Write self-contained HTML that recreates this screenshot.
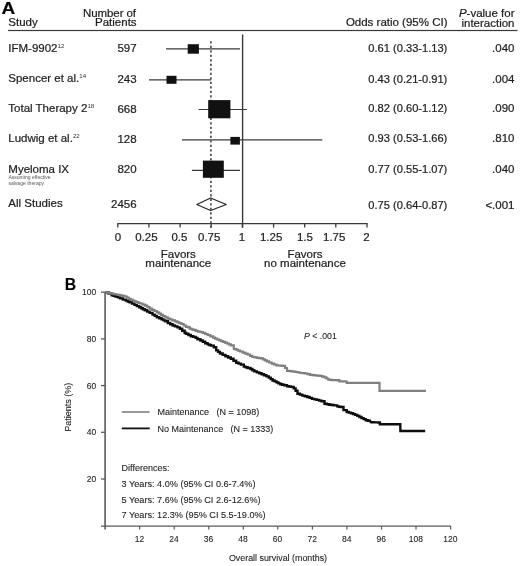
<!DOCTYPE html>
<html><head><meta charset="utf-8"><style>
html,body{margin:0;padding:0;background:#fff;width:520px;height:566px;overflow:hidden}
svg{display:block;will-change:transform}
text{font-family:"Liberation Sans",sans-serif;stroke:#1e1e1e;stroke-width:0.22px} .pb text{stroke-width:0.1px}
</style></head><body>
<svg width="520" height="566" viewBox="0 0 520 566" font-family="Liberation Sans, sans-serif">
<text transform="translate(1.6,13.6) scale(1.13,1)" font-size="16.8" font-weight="bold" fill="#000">A</text>
<text x="8.3" y="25.7" font-size="11.5" fill="#1e1e1e">Study</text>
<text x="135.9" y="16.6" font-size="11.5" fill="#1e1e1e" text-anchor="end" letter-spacing="-0.1">Number of</text>
<text x="136.6" y="25.7" font-size="11.5" fill="#1e1e1e" text-anchor="end">Patients</text>
<text x="447.5" y="25.7" font-size="11.5" fill="#1e1e1e" text-anchor="end">Odds ratio (95% CI)</text>
<text x="514.5" y="17.4" font-size="11.5" fill="#1e1e1e" text-anchor="end"><tspan font-style="italic">P</tspan>-value for</text>
<text x="514.5" y="26.8" font-size="11.5" fill="#1e1e1e" text-anchor="end">interaction</text>
<rect x="8" y="29.9" width="509.5" height="1.2" fill="#3a3a3a"/>
<text x="8.3" y="51.6" font-size="11.5" fill="#1e1e1e">IFM-9902<tspan font-size="6.1" dy="-3.9" dx="0.1" fill="#333" style="stroke:none">12</tspan></text>
<text x="136.6" y="51.9" font-size="11.5" fill="#1e1e1e" text-anchor="end">597</text>
<text x="447.3" y="51.9" font-size="11.1" fill="#1e1e1e" text-anchor="end">0.61 (0.33-1.13)</text>
<text x="514.5" y="51.9" font-size="11.5" fill="#1e1e1e" text-anchor="end">.040</text>
<text x="8.3" y="81.9" font-size="11.5" fill="#1e1e1e">Spencer et al.<tspan font-size="6.1" dy="-3.9" dx="0.1" fill="#333" style="stroke:none">14</tspan></text>
<text x="136.6" y="83.0" font-size="11.5" fill="#1e1e1e" text-anchor="end">243</text>
<text x="447.3" y="83.0" font-size="11.1" fill="#1e1e1e" text-anchor="end">0.43 (0.21-0.91)</text>
<text x="514.5" y="83.0" font-size="11.5" fill="#1e1e1e" text-anchor="end">.004</text>
<text x="8.3" y="111.9" font-size="11.5" fill="#1e1e1e">Total Therapy 2<tspan font-size="6.1" dy="-3.9" dx="0.1" fill="#333" style="stroke:none">18</tspan></text>
<text x="136.6" y="113.2" font-size="11.5" fill="#1e1e1e" text-anchor="end">668</text>
<text x="447.3" y="112.4" font-size="11.1" fill="#1e1e1e" text-anchor="end">0.82 (0.60-1.12)</text>
<text x="514.5" y="112.4" font-size="11.5" fill="#1e1e1e" text-anchor="end">.090</text>
<text x="8.3" y="142.3" font-size="11.5" fill="#1e1e1e">Ludwig et al.<tspan font-size="6.1" dy="-3.9" dx="0.1" fill="#333" style="stroke:none">22</tspan></text>
<text x="136.6" y="142.7" font-size="11.5" fill="#1e1e1e" text-anchor="end">128</text>
<text x="447.3" y="142.0" font-size="11.1" fill="#1e1e1e" text-anchor="end">0.93 (0.53-1.66)</text>
<text x="514.5" y="142.0" font-size="11.5" fill="#1e1e1e" text-anchor="end">.810</text>
<text x="8.3" y="172.7" font-size="11.5" fill="#1e1e1e">Myeloma IX</text>
<text x="136.6" y="172.8" font-size="11.5" fill="#1e1e1e" text-anchor="end">820</text>
<text x="447.3" y="172.7" font-size="11.1" fill="#1e1e1e" text-anchor="end">0.77 (0.55-1.07)</text>
<text x="514.5" y="172.7" font-size="11.5" fill="#1e1e1e" text-anchor="end">.040</text>
<text x="8.4" y="179.3" font-size="5.05" fill="#555" style="stroke:none">Assuming effective</text>
<text x="8.4" y="184.7" font-size="5.05" fill="#555" style="stroke:none">salvage therapy</text>
<text x="8.3" y="206.6" font-size="11.5" fill="#1e1e1e">All Studies</text>
<text x="136.6" y="207.8" font-size="11.5" fill="#1e1e1e" text-anchor="end">2456</text>
<text x="447.3" y="208.6" font-size="11.1" fill="#1e1e1e" text-anchor="end">0.75 (0.64-0.87)</text>
<text x="514.5" y="208.6" font-size="11.5" fill="#1e1e1e" text-anchor="end">&lt;.001</text>
<line x1="242.6" y1="34.5" x2="242.6" y2="227.8" stroke="#3a3a3a" stroke-width="1.4"/>
<line x1="210.9" y1="41.3" x2="210.9" y2="227.8" stroke="#3a3a3a" stroke-width="1.5" stroke-dasharray="2.3 2.2"/>
<line x1="166" y1="48.8" x2="240" y2="48.8" stroke="#3a3a3a" stroke-width="1.2"/>
<rect x="187.7" y="44.2" width="11.2" height="9.5" fill="#111"/>
<line x1="149" y1="79.8" x2="211" y2="79.8" stroke="#3a3a3a" stroke-width="1.2"/>
<rect x="166.5" y="75.8" width="10" height="8" fill="#111"/>
<line x1="198.5" y1="109.5" x2="246.8" y2="109.5" stroke="#3a3a3a" stroke-width="1.2"/>
<rect x="208.2" y="100.1" width="22.2" height="18.2" fill="#111"/>
<line x1="181.9" y1="139.8" x2="322.3" y2="139.8" stroke="#3a3a3a" stroke-width="1.2"/>
<rect x="230.4" y="136.9" width="9.5" height="7.7" fill="#111"/>
<line x1="191.9" y1="170.4" x2="240" y2="170.4" stroke="#3a3a3a" stroke-width="1.2"/>
<rect x="202.9" y="160.6" width="20.9" height="17.2" fill="#111"/>
<polygon points="196.8,204.4 210.6,198.1 226.3,204.4 210.6,210.6" fill="none" stroke="#222" stroke-width="1.1" stroke-linejoin="round"/>
<line x1="117.3" y1="223.6" x2="367.6" y2="223.6" stroke="#3a3a3a" stroke-width="1.3"/>
<line x1="117.8" y1="223.6" x2="117.8" y2="227.6" stroke="#3a3a3a" stroke-width="1.3"/>
<line x1="148.9" y1="223.6" x2="148.9" y2="227.6" stroke="#3a3a3a" stroke-width="1.3"/>
<line x1="180.1" y1="223.6" x2="180.1" y2="227.6" stroke="#3a3a3a" stroke-width="1.3"/>
<line x1="211.2" y1="223.6" x2="211.2" y2="227.6" stroke="#3a3a3a" stroke-width="1.3"/>
<line x1="242.4" y1="223.6" x2="242.4" y2="227.6" stroke="#3a3a3a" stroke-width="1.3"/>
<line x1="273.6" y1="223.6" x2="273.6" y2="227.6" stroke="#3a3a3a" stroke-width="1.3"/>
<line x1="304.7" y1="223.6" x2="304.7" y2="227.6" stroke="#3a3a3a" stroke-width="1.3"/>
<line x1="335.8" y1="223.6" x2="335.8" y2="227.6" stroke="#3a3a3a" stroke-width="1.3"/>
<line x1="367.0" y1="223.6" x2="367.0" y2="227.6" stroke="#3a3a3a" stroke-width="1.3"/>
<text x="117.9" y="240.6" font-size="11.5" fill="#1e1e1e" text-anchor="middle">0</text>
<text x="146.4" y="240.6" font-size="11.5" fill="#1e1e1e" text-anchor="middle">0.25</text>
<text x="179.4" y="240.6" font-size="11.5" fill="#1e1e1e" text-anchor="middle">0.5</text>
<text x="209.2" y="240.6" font-size="11.5" fill="#1e1e1e" text-anchor="middle">0.75</text>
<text x="242.0" y="240.6" font-size="11.5" fill="#1e1e1e" text-anchor="middle">1</text>
<text x="271.1" y="240.6" font-size="11.5" fill="#1e1e1e" text-anchor="middle">1.25</text>
<text x="304.9" y="240.6" font-size="11.5" fill="#1e1e1e" text-anchor="middle">1.5</text>
<text x="334.2" y="240.6" font-size="11.5" fill="#1e1e1e" text-anchor="middle">1.75</text>
<text x="366.5" y="240.6" font-size="11.5" fill="#1e1e1e" text-anchor="middle">2</text>
<text x="178.3" y="257.6" font-size="11.5" fill="#1e1e1e" text-anchor="middle">Favors</text>
<text x="178.3" y="267.3" font-size="11.5" fill="#1e1e1e" text-anchor="middle">maintenance</text>
<text x="305" y="257.6" font-size="11.5" fill="#1e1e1e" text-anchor="middle">Favors</text>
<text x="305" y="267.4" font-size="11.5" fill="#1e1e1e" text-anchor="middle">no maintenance</text>
<g class="pb">
<text x="64.8" y="289.6" font-size="15.8" font-weight="bold" fill="#000">B</text>
<line x1="105.1" y1="292.2" x2="105.1" y2="529.6" stroke="#5a5a5a" stroke-width="1.6"/>
<line x1="101" y1="526.1" x2="450.8" y2="526.1" stroke="#5a5a5a" stroke-width="1.4"/>
<line x1="101" y1="292.2" x2="105" y2="292.2" stroke="#5a5a5a" stroke-width="1.3"/>
<text x="96.2" y="295.2" font-size="8.5" fill="#1e1e1e" text-anchor="end">100</text>
<line x1="101" y1="338.9" x2="105" y2="338.9" stroke="#5a5a5a" stroke-width="1.3"/>
<text x="96.2" y="341.9" font-size="8.5" fill="#1e1e1e" text-anchor="end">80</text>
<line x1="101" y1="385.6" x2="105" y2="385.6" stroke="#5a5a5a" stroke-width="1.3"/>
<text x="96.2" y="388.6" font-size="8.5" fill="#1e1e1e" text-anchor="end">60</text>
<line x1="101" y1="432.3" x2="105" y2="432.3" stroke="#5a5a5a" stroke-width="1.3"/>
<text x="96.2" y="435.3" font-size="8.5" fill="#1e1e1e" text-anchor="end">40</text>
<line x1="101" y1="479.0" x2="105" y2="479.0" stroke="#5a5a5a" stroke-width="1.3"/>
<text x="96.2" y="482.0" font-size="8.5" fill="#1e1e1e" text-anchor="end">20</text>
<line x1="139.6" y1="526.1" x2="139.6" y2="529.6" stroke="#5a5a5a" stroke-width="1.2"/>
<text x="139.4" y="541.9" font-size="8.5" fill="#1e1e1e" text-anchor="middle">12</text>
<line x1="174.2" y1="526.1" x2="174.2" y2="529.6" stroke="#5a5a5a" stroke-width="1.2"/>
<text x="174.0" y="541.9" font-size="8.5" fill="#1e1e1e" text-anchor="middle">24</text>
<line x1="208.7" y1="526.1" x2="208.7" y2="529.6" stroke="#5a5a5a" stroke-width="1.2"/>
<text x="208.5" y="541.9" font-size="8.5" fill="#1e1e1e" text-anchor="middle">36</text>
<line x1="243.3" y1="526.1" x2="243.3" y2="529.6" stroke="#5a5a5a" stroke-width="1.2"/>
<text x="243.1" y="541.9" font-size="8.5" fill="#1e1e1e" text-anchor="middle">48</text>
<line x1="277.8" y1="526.1" x2="277.8" y2="529.6" stroke="#5a5a5a" stroke-width="1.2"/>
<text x="277.6" y="541.9" font-size="8.5" fill="#1e1e1e" text-anchor="middle">60</text>
<line x1="312.4" y1="526.1" x2="312.4" y2="529.6" stroke="#5a5a5a" stroke-width="1.2"/>
<text x="312.2" y="541.9" font-size="8.5" fill="#1e1e1e" text-anchor="middle">72</text>
<line x1="346.9" y1="526.1" x2="346.9" y2="529.6" stroke="#5a5a5a" stroke-width="1.2"/>
<text x="346.7" y="541.9" font-size="8.5" fill="#1e1e1e" text-anchor="middle">84</text>
<line x1="381.5" y1="526.1" x2="381.5" y2="529.6" stroke="#5a5a5a" stroke-width="1.2"/>
<text x="381.3" y="541.9" font-size="8.5" fill="#1e1e1e" text-anchor="middle">96</text>
<line x1="416.0" y1="526.1" x2="416.0" y2="529.6" stroke="#5a5a5a" stroke-width="1.2"/>
<text x="415.8" y="541.9" font-size="8.5" fill="#1e1e1e" text-anchor="middle">108</text>
<line x1="450.6" y1="526.1" x2="450.6" y2="529.6" stroke="#5a5a5a" stroke-width="1.2"/>
<text x="450.4" y="541.9" font-size="8.5" fill="#1e1e1e" text-anchor="middle">120</text>
<text x="278" y="560.8" font-size="8.9" fill="#1e1e1e" text-anchor="middle">Overall survival (months)</text>
<text transform="translate(71.3,407.3) rotate(-90)" font-size="9" fill="#1e1e1e" text-anchor="middle">Patients (%)</text>
<text x="304" y="338.7" font-size="8.75" fill="#1e1e1e"><tspan font-style="italic">P</tspan> &lt; .001</text>
<line x1="121.8" y1="412" x2="149.5" y2="412" stroke="#888" stroke-width="1.7"/>
<line x1="121.8" y1="428.4" x2="149.7" y2="428.4" stroke="#111" stroke-width="1.8"/>
<text x="157.6" y="415" font-size="9" fill="#1e1e1e">Maintenance</text>
<text x="216.6" y="415" font-size="9" fill="#1e1e1e">(N = 1098)</text>
<text x="157.6" y="431.5" font-size="9" fill="#1e1e1e">No Maintenance</text>
<text x="230.4" y="431.5" font-size="9" fill="#1e1e1e">(N = 1333)</text>
<text x="121.6" y="471.4" font-size="9" fill="#1e1e1e">Differences:</text>
<text x="121.6" y="486.9" font-size="9.15" fill="#1e1e1e">3 Years: 4.0% (95% CI 0.6-7.4%)</text>
<text x="121.6" y="502.6" font-size="9.15" fill="#1e1e1e">5 Years: 7.6% (95% CI 2.6-12.6%)</text>
<text x="121.6" y="518.2" font-size="9.15" fill="#1e1e1e">7 Years: 12.3% (95% CI 5.5-19.0%)</text>
</g>
<path d="M105.4,292.4 L108.5,292.4 L108.5,293.6 L111.7,293.6 L111.7,295.2 L113.6,295.2 L113.6,295.9 L115.5,295.9 L115.5,296.5 L117.8,296.5 L117.8,297.4 L120.0,297.4 L120.0,298.4 L122.9,298.4 L122.9,299.6 L125.8,299.6 L125.8,300.6 L127.7,300.6 L127.7,301.5 L129.6,301.5 L129.6,302.3 L132.0,302.3 L132.0,303.6 L134.4,303.6 L134.4,304.9 L136.8,304.9 L136.8,306.1 L139.2,306.1 L139.2,307.3 L141.1,307.3 L141.1,308.3 L142.9,308.3 L142.9,309.3 L144.8,309.3 L144.8,310.3 L147.2,310.3 L147.2,311.6 L149.6,311.6 L149.6,312.9 L152.5,312.9 L152.5,314.6 L154.7,314.6 L154.7,315.9 L156.8,315.9 L156.8,317.2 L159.2,317.2 L159.2,318.3 L161.6,318.3 L161.6,319.4 L163.5,319.4 L163.5,320.4 L165.4,320.4 L165.4,321.3 L167.8,321.3 L167.8,323.0 L170.2,323.0 L170.2,324.2 L172.6,324.2 L172.6,325.5 L175.0,325.5 L175.0,326.4 L177.4,326.4 L177.4,327.4 L179.8,327.4 L179.8,328.8 L182.2,328.8 L182.2,330.8 L184.6,330.8 L184.6,332.7 L186.0,332.7 L186.0,333.8 L188.4,333.8 L188.4,335.0 L190.8,335.0 L190.8,336.2 L193.2,336.2 L193.2,336.9 L195.6,336.9 L195.6,337.9 L197.5,337.9 L197.5,339.3 L200.4,339.3 L200.4,340.5 L202.8,340.5 L202.8,341.7 L205.2,341.7 L205.2,343.2 L207.6,343.2 L207.6,344.4 L209.3,344.4 L209.3,345.0 L211.0,345.0 L211.0,345.6 L213.8,345.6 L213.8,347.3 L216.2,347.3 L216.2,350.4 L218.1,350.4 L218.1,351.9 L220.0,351.9 L220.0,353.5 L222.7,353.5 L222.7,354.9 L225.4,354.9 L225.4,356.2 L228.1,356.2 L228.1,357.5 L230.8,357.5 L230.8,358.8 L233.5,358.8 L233.5,360.8 L236.2,360.8 L236.2,362.7 L238.6,362.7 L238.6,363.6 L240.9,363.6 L240.9,364.6 L243.8,364.6 L243.8,366.6 L245.7,366.6 L245.7,367.3 L247.6,367.3 L247.6,368.0 L250.5,368.0 L250.5,369.0 L252.4,369.0 L252.4,370.2 L254.3,370.2 L254.3,371.4 L256.8,371.4 L256.8,372.4 L259.2,372.4 L259.2,373.3 L261.6,373.3 L261.6,374.2 L264.0,374.2 L264.0,375.2 L266.4,375.2 L266.4,376.4 L268.8,376.4 L268.8,377.6 L270.7,377.6 L270.7,379.1 L272.6,379.1 L272.6,380.5 L274.6,380.5 L274.6,381.4 L276.5,381.4 L276.5,382.4 L278.4,382.4 L278.4,383.4 L280.3,383.4 L280.3,384.3 L282.2,384.3 L282.2,384.8 L284.2,384.8 L284.2,385.3 L287.0,385.3 L287.0,386.2 L288.9,386.2 L288.9,386.5 L290.8,386.5 L290.8,386.9 L293.7,386.9 L293.7,388.4 L295.6,388.4 L295.6,390.8 L297.5,390.8 L297.5,393.7 L299.9,393.7 L299.9,394.6 L302.3,394.6 L302.3,395.6 L304.8,395.6 L304.8,396.3 L307.2,396.3 L307.2,397.0 L309.6,397.0 L309.6,397.9 L312.0,397.9 L312.0,398.9 L314.4,398.9 L314.4,399.4 L316.8,399.4 L316.8,399.9 L319.2,399.9 L319.2,400.6 L321.6,400.6 L321.6,401.3 L324.5,401.3 L324.5,403.8 L326.9,403.8 L326.9,404.2 L329.3,404.2 L329.3,404.7 L331.6,404.7 L331.6,405.0 L334.0,405.0 L334.0,405.4 L337.2,405.4 L337.2,406.4 L339.0,406.4 L339.0,406.7 L340.9,406.7 L340.9,407.0 L343.5,407.0 L343.5,410.1 L346.7,410.1 L346.7,412.0 L348.9,412.0 L348.9,412.6 L351.0,412.6 L351.0,413.3 L353.1,413.3 L353.1,414.1 L355.2,414.1 L355.2,414.9 L357.3,414.9 L357.3,415.9 L359.4,415.9 L359.4,417.0 L361.5,417.0 L361.5,418.1 L363.7,418.1 L363.7,419.1 L365.8,419.1 L365.8,420.2 L367.9,420.2 L367.9,420.8 L370.0,420.8 L370.0,421.3 L371.1,422.3 L373.6,422.3 L373.6,422.4 L376.0,422.4 L376.0,422.4 L378.5,422.4 L378.5,422.5 L379.9,422.5 L379.9,424.2 L400.3,424.2 L400.4,431.0 L425.2,431.0" fill="none" stroke="#0d0d0d" stroke-width="2.4" stroke-linejoin="miter"/>
<path d="M105.4,292.4 L107.6,292.4 L107.6,292.9 L109.8,292.9 L109.8,293.3 L111.7,293.3 L111.7,293.7 L113.6,293.7 L113.6,294.1 L115.5,294.1 L115.5,294.5 L117.8,294.5 L117.8,294.9 L120.0,294.9 L120.0,295.3 L122.4,295.3 L122.4,295.9 L124.8,295.9 L124.8,296.5 L126.8,296.5 L126.8,297.7 L128.7,297.7 L128.7,298.9 L130.6,298.9 L130.6,299.7 L132.5,299.7 L132.5,300.5 L134.4,300.5 L134.4,301.3 L136.3,301.3 L136.3,302.0 L138.1,302.0 L138.1,302.8 L140.0,302.8 L140.0,303.5 L142.5,303.5 L142.5,304.6 L145.0,304.6 L145.0,305.6 L147.3,305.6 L147.3,307.1 L149.6,307.1 L149.6,308.6 L152.0,308.6 L152.0,309.8 L154.4,309.8 L154.4,311.0 L156.8,311.0 L156.8,312.3 L159.2,312.3 L159.2,313.6 L161.1,313.6 L161.1,314.9 L163.0,314.9 L163.0,316.1 L165.4,316.1 L165.4,317.3 L167.8,317.3 L167.8,318.7 L170.2,318.7 L170.2,319.5 L172.6,319.5 L172.6,320.4 L175.0,320.4 L175.0,321.4 L177.4,321.4 L177.4,322.3 L179.4,322.3 L179.4,323.1 L181.3,323.1 L181.3,324.0 L183.7,324.0 L183.7,325.5 L186.0,325.5 L186.0,326.8 L188.4,326.8 L188.4,327.3 L189.8,327.3 L189.8,328.7 L191.5,328.7 L191.5,329.3 L193.2,329.3 L193.2,329.9 L195.6,329.9 L195.6,330.8 L198.0,330.8 L198.0,331.6 L200.4,331.6 L200.4,332.2 L202.8,332.2 L202.8,332.8 L205.2,332.8 L205.2,334.0 L207.7,334.0 L207.7,335.2 L210.4,335.2 L210.4,336.4 L213.1,336.4 L213.1,337.7 L215.1,337.7 L215.1,338.6 L217.2,338.6 L217.2,339.5 L219.2,339.5 L219.2,340.4 L221.1,340.4 L221.1,341.2 L223.1,341.2 L223.1,341.9 L225.0,341.9 L225.0,342.7 L226.9,342.7 L226.9,343.5 L228.9,343.5 L228.9,344.4 L230.8,344.4 L230.8,345.4 L233.8,345.4 L233.8,348.8 L235.9,348.8 L235.9,349.7 L237.9,349.7 L237.9,350.6 L240.0,350.6 L240.0,351.5 L242.8,351.5 L242.8,352.6 L245.2,352.6 L245.2,353.6 L247.6,353.6 L247.6,354.5 L250.0,354.5 L250.0,355.8 L252.4,355.8 L252.4,357.0 L254.8,357.0 L254.8,357.4 L257.2,357.4 L257.2,357.9 L259.1,357.9 L259.1,358.1 L261.1,358.1 L261.1,358.4 L263.0,358.4 L263.0,359.4 L264.9,359.4 L264.9,360.3 L266.8,360.3 L266.8,361.3 L269.2,361.3 L269.2,362.5 L271.7,362.5 L271.7,363.7 L274.1,363.7 L274.1,364.5 L276.5,364.5 L276.5,365.3 L278.4,365.3 L278.4,365.5 L280.3,365.5 L280.3,365.7 L282.2,365.7 L282.2,365.9 L285.1,365.9 L285.1,368.0 L287.0,368.0 L287.0,370.9 L289.8,370.9 L289.8,371.1 L291.7,371.1 L291.7,371.4 L293.7,371.4 L293.7,371.7 L295.6,371.7 L295.6,372.0 L298.0,372.0 L298.0,372.5 L300.4,372.5 L300.4,373.0 L302.8,373.0 L302.8,373.2 L305.2,373.2 L305.2,373.5 L307.6,373.5 L307.6,374.2 L310.0,374.2 L310.0,374.9 L312.4,374.9 L312.4,375.1 L314.8,375.1 L314.8,375.4 L317.2,375.4 L317.2,375.6 L319.7,375.6 L319.7,375.9 L322.1,375.9 L322.1,376.6 L324.5,376.6 L324.5,377.3 L326.4,377.3 L326.4,378.5 L328.3,378.5 L328.3,379.7 L330.2,379.7 L330.2,379.9 L332.2,379.9 L332.2,380.1 L337.2,380.1 L339.3,380.1 L339.3,381.3 L342.0,381.3 L342.0,381.4 L344.6,381.4 L344.6,381.5 L346.7,381.5 L346.7,382.9 L378.0,382.9 L379.5,382.9 L379.5,390.9 L425.9,390.9" fill="none" stroke="#7f7f7f" stroke-width="2.2" stroke-linejoin="miter"/>
</svg>
</body></html>
